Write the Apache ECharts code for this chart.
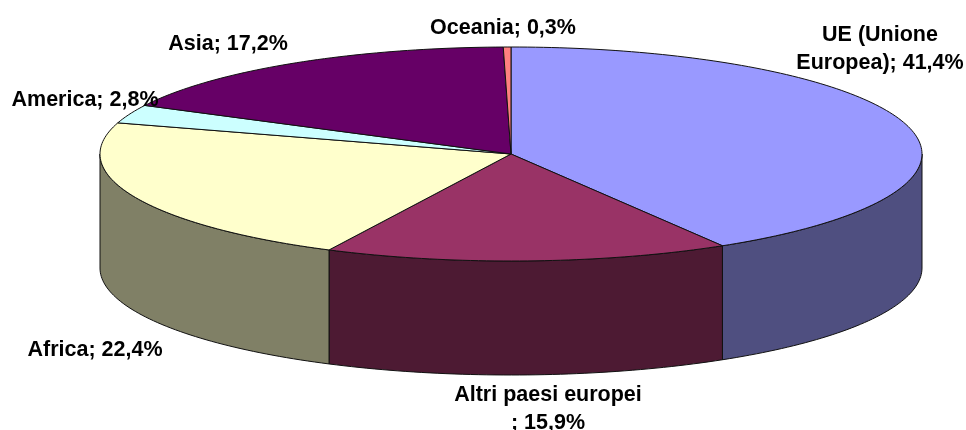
<!DOCTYPE html>
<html>
<head>
<meta charset="utf-8">
<style>html,body{margin:0;padding:0;background:#fff}#c{width:966px;height:430px}</style>
<script src="https://cdn.jsdelivr.net/npm/echarts@6/dist/echarts.min.js"></script>
</head>
<body>
<div id="c"></div>
<script>
const categories = ['UE (Unione\nEuropea)', 'Altri paesi europei\n', 'Africa', 'America', 'Asia', 'Oceania'];
const values = [41.4, 15.9, 22.4, 2.8, 17.2, 0.3];
const topColors = ['#9999FF', '#993366', '#FFFFCC', '#CCFFFF', '#660066', '#FF8080'];
const sideColors = ['#4F4F80', '#4D1A33', '#808066', '#668080', '#330033', '#804040'];
const labelCenters = [[880, 49], [548, 409], [95, 350], [85, 100], [228, 44], [503, 28]];
const pie = { cx: 511, cy: 154, rx: 411, ry: 107, depth: 114 };

const total = values.reduce((a, b) => a + b, 0);
const starts = [];
values.reduce((acc, v, i) => { starts[i] = acc; return acc + v; }, 0);
const toAngle = v => v / total * 2 * Math.PI;
const pt = (t, dy) => [pie.cx + pie.rx * Math.sin(t), pie.cy - pie.ry * Math.cos(t) + (dy || 0)];
function arc(a, b, dy) {
  const n = Math.max(2, Math.ceil((b - a) / 0.02));
  const out = [];
  for (let i = 0; i <= n; i++) out.push(pt(a + (b - a) * i / n, dy));
  return out;
}
const edge = { stroke: '#111', lineWidth: 1 };

function renderSlice(params, api) {
  const v = api.value(1), s = api.value(2);
  const a = toAngle(s), b = toAngle(s + v);
  const children = [];
  const fa = Math.max(a, Math.PI / 2), fb = Math.min(b, Math.PI * 3 / 2);
  if (fb > fa) {
    const top = arc(fa, fb, 0), bottom = arc(fa, fb, pie.depth).reverse();
    children.push({ type: 'polygon', shape: { points: top.concat(bottom) },
      style: Object.assign({ fill: sideColors[params.dataIndex] }, edge) });
  }
  children.push({ type: 'polygon', shape: { points: [[pie.cx, pie.cy]].concat(arc(a, b, 0)) },
    style: Object.assign({ fill: topColors[params.dataIndex] }, edge) });
  return { type: 'group', children };
}
function renderLabel(params, api) {
  const c = labelCenters[params.dataIndex];
  const text = categories[params.dataIndex] + '; ' + values[params.dataIndex].toFixed(1).replace('.', ',') + '%';
  return { type: 'text', x: c[0], y: c[1], style: {
    text: text, align: 'center', verticalAlign: 'middle',
    font: 'bold 21.5px "Liberation Sans", Arial, sans-serif', lineHeight: 28.5, fill: '#000' } };
}
const rows = values.map((v, i) => [categories[i], v, starts[i]]);
const chart = echarts.init(document.getElementById('c'), null, { renderer: 'canvas' });
chart.setOption({
  animation: false,
  backgroundColor: '#fff',
  series: [
    { type: 'custom', coordinateSystem: 'none', silent: true, data: rows, renderItem: renderSlice, z: 1 },
    { type: 'custom', coordinateSystem: 'none', silent: true, data: rows, renderItem: renderLabel, z: 2 }
  ]
});
</script>
</body>
</html>
